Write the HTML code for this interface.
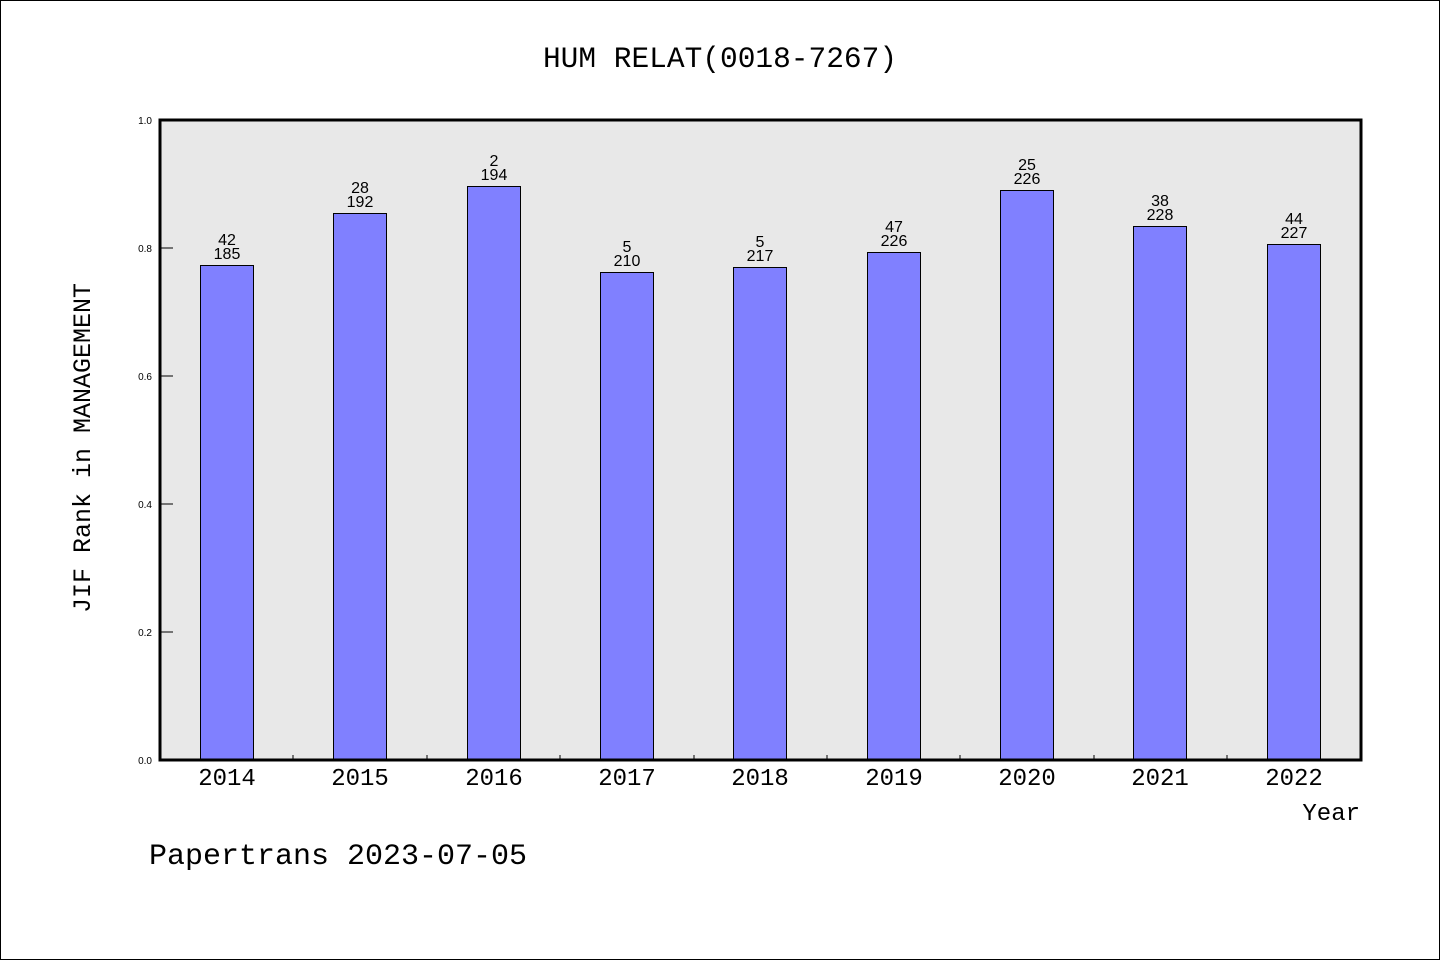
<!DOCTYPE html>
<html><head><style>body{margin:0;background:#fff}svg{display:block}</style></head><body>
<svg width="1440" height="960" xmlns="http://www.w3.org/2000/svg" font-family="'Liberation Mono',monospace">
<rect x="0.5" y="0.5" width="1439" height="959" fill="#fff" stroke="#000"/>
<text x="720" y="67" font-size="29.5" text-anchor="middle">HUM RELAT(0018-7267)</text>
<rect x="160" y="120" width="1201" height="640" fill="#e8e8e8"/>
<g font-size="10" font-family="'Liberation Sans',sans-serif" text-anchor="end">
<text x="152" y="764">0.0</text><text x="152" y="636">0.2</text><text x="152" y="508">0.4</text><text x="152" y="380">0.6</text><text x="152" y="252">0.8</text><text x="152" y="124">1.0</text>
</g>
<g stroke="#000" stroke-width="1">
<line x1="160" y1="632" x2="173" y2="632"/><line x1="160" y1="504" x2="173" y2="504"/><line x1="160" y1="376" x2="173" y2="376"/><line x1="160" y1="248" x2="173" y2="248"/>
<line x1="293" y1="755" x2="293" y2="760"/><line x1="427" y1="755" x2="427" y2="760"/><line x1="560" y1="755" x2="560" y2="760"/><line x1="694" y1="755" x2="694" y2="760"/><line x1="827" y1="755" x2="827" y2="760"/><line x1="960" y1="755" x2="960" y2="760"/><line x1="1094" y1="755" x2="1094" y2="760"/><line x1="1227" y1="755" x2="1227" y2="760"/>
</g>
<g fill="#8080ff" stroke="#000" stroke-width="1">
<rect x="200.5" y="265.5" width="53" height="495"/>
<rect x="333.5" y="213.5" width="53" height="547"/>
<rect x="467.5" y="186.5" width="53" height="574"/>
<rect x="600.5" y="272.5" width="53" height="488"/>
<rect x="733.5" y="267.5" width="53" height="493"/>
<rect x="867.5" y="252.5" width="53" height="508"/>
<rect x="1000.5" y="190.5" width="53" height="570"/>
<rect x="1133.5" y="226.5" width="53" height="534"/>
<rect x="1267.5" y="244.5" width="53" height="516"/>
</g>
<g font-size="16" text-anchor="middle" font-family="'Liberation Sans',sans-serif">
<text x="227" y="245">42</text><text x="227" y="259">185</text>
<text x="360" y="193">28</text><text x="360" y="207">192</text>
<text x="494" y="166">2</text><text x="494" y="180">194</text>
<text x="627" y="252">5</text><text x="627" y="266">210</text>
<text x="760" y="247">5</text><text x="760" y="261">217</text>
<text x="894" y="232">47</text><text x="894" y="246">226</text>
<text x="1027" y="170">25</text><text x="1027" y="184">226</text>
<text x="1160" y="206">38</text><text x="1160" y="220">228</text>
<text x="1294" y="224">44</text><text x="1294" y="238">227</text>
</g>
<rect x="160" y="120" width="1201" height="640" fill="none" stroke="#000" stroke-width="3"/>
<g font-size="24" text-anchor="middle">
<text x="227" y="785">2014</text><text x="360" y="785">2015</text><text x="494" y="785">2016</text><text x="627" y="785">2017</text><text x="760" y="785">2018</text><text x="894" y="785">2019</text><text x="1027" y="785">2020</text><text x="1160" y="785">2021</text><text x="1294" y="785">2022</text>
</g>
<text x="1360" y="820" font-size="24" text-anchor="end">Year</text>
<text x="90" y="448" font-size="25" text-anchor="middle" transform="rotate(-90 90 448)">JIF Rank in MANAGEMENT</text>
<text x="149" y="864" font-size="30">Papertrans 2023-07-05</text>
</svg>
</body></html>
